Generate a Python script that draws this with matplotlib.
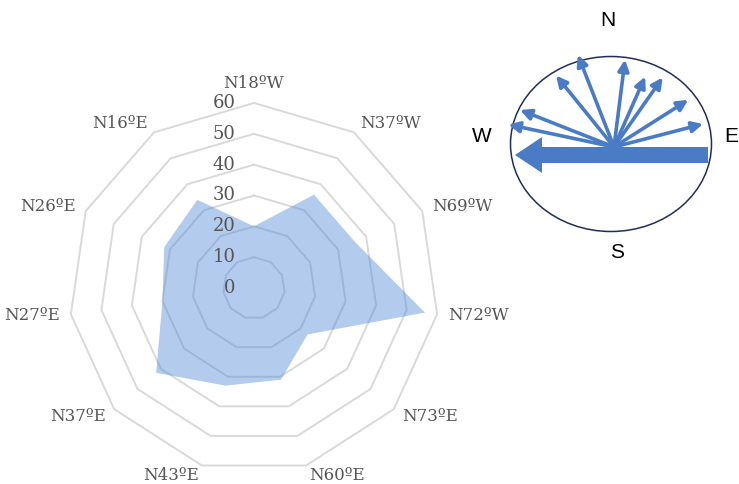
import numpy as np
import matplotlib
matplotlib.use("Agg")
import matplotlib.pyplot as plt
from matplotlib.patches import Ellipse, FancyArrowPatch, FancyArrow

# ---------------- data ----------------
categories = ["N18ºW", "N37ºW", "N69ºW", "N72ºW", "N73ºE", "N60ºE",
              "N43ºE", "N37ºE", "N27ºE", "N26ºE", "N16ºE"]
values = [20, 36, 36, 56, 23, 31, 33, 42, 30, 32, 34]
ring_ticks = [0, 10, 20, 30, 40, 50, 60]

# compass diagram: strike bearings (deg clockwise from N) and arrow lengths
strike_bearings = [282, 291.5, 321, 338.6, 7.2, 23.9, 35, 57.6, 75.5]
strike_lengths = [108, 101, 92, 99, 88, 77, 85, 88, 92]
compass_letters = ["N", "E", "S", "W"]

# ---------------- figure ----------------
W_PX, H_PX = 739, 484
fig = plt.figure(figsize=(W_PX / 100, H_PX / 100), dpi=100)
fig.patch.set_facecolor("white")

# radar axes: centre (254, 288) px, 60 -> 185 px
cx, cy, R60 = 254, 288, 185
lim = 70
size_px = 2 * lim * R60 / 60
ax = fig.add_axes([(cx - size_px / 2) / W_PX, (H_PX - cy - size_px / 2) / H_PX,
                   size_px / W_PX, size_px / H_PX])
ax.set_xlim(-lim, lim)
ax.set_ylim(-lim, lim)
ax.set_aspect("equal")
ax.axis("off")

n = len(categories)
theta = np.arange(n) * 2 * np.pi / n
sx, cyv = np.sin(theta), np.cos(theta)

grid_col = "#D9D9D9"
for rv in ring_ticks[1:]:
    xs = np.append(rv * sx, rv * sx[0])
    ys = np.append(rv * cyv, rv * cyv[0])
    ax.plot(xs, ys, color=grid_col, lw=1.4, zorder=1, clip_on=False)

vals = np.array(values, dtype=float)
ax.fill(vals * sx, vals * cyv, color="#4A86D8", alpha=0.42, lw=0, zorder=2)

txt_col = "#555555"
serif = ["DejaVu Serif"]
for rv in ring_ticks:
    ax.text(-6.0, rv, str(rv), ha="right", va="center", fontsize=13,
            color=txt_col, family=serif, zorder=3)

for i, lab in enumerate(categories):
    s, c = sx[i], cyv[i]
    r = 63.5
    if abs(s) < 0.1:
        ha, va = "center", "bottom"
    else:
        ha = "left" if s > 0 else "right"
        va = "center"
    ax.text(r * s, r * c, lab, ha=ha, va=va, fontsize=12, color=txt_col,
            family=serif, clip_on=False)

# ---------------- compass diagram ----------------
x0, y0, x1, y1 = 460, 0, 739, 280
cax = fig.add_axes([x0 / W_PX, (H_PX - y1) / H_PX, (x1 - x0) / W_PX, (y1 - y0) / H_PX])
cax.set_xlim(x0, x1)
cax.set_ylim(y1, y0)
cax.set_aspect("equal")
cax.axis("off")

blue = "#4A7CC6"
cax.add_patch(Ellipse((611, 144), 201, 175, fill=False, ec="#1F2D5A", lw=1.1, zorder=1))

ox, oy = 614, 147
for b, L in zip(strike_bearings, strike_lengths):
    rad = np.deg2rad(b)
    tx, ty = ox + L * np.sin(rad), oy - L * np.cos(rad)
    cax.add_patch(FancyArrowPatch((ox, oy), (tx, ty), arrowstyle="-|>",
                                  mutation_scale=16, lw=2.6, color=blue,
                                  shrinkA=0, shrinkB=0, zorder=2))

# big W-pointing arrow
cax.add_patch(FancyArrow(708, 155, -193, 0, width=16, head_width=36,
                         head_length=27, length_includes_head=True,
                         color=blue, lw=0, zorder=3))

letter_pos = {"N": (608, 20), "E": (731, 136), "S": (617, 253), "W": (482, 137)}
for L in compass_letters:
    px, py = letter_pos[L]
    cax.text(px, py, L, ha="center", va="center", fontsize=15, color="black",
             family=["Liberation Sans", "DejaVu Sans"], clip_on=False)

fig.savefig("out.png", dpi=100, facecolor="white")
